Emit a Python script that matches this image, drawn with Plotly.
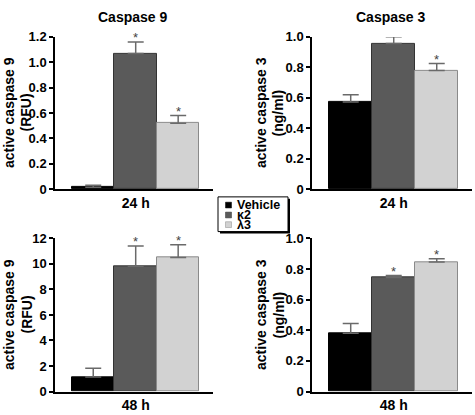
import plotly.graph_objects as go

# ---- data ----
groups = ["Vehicle", "κ2", "λ3"]
casp9_24h = [0.015, 1.07, 0.52]
casp9_24h_err = [0.015, 0.09, 0.06]
casp3_24h = [0.573, 0.956, 0.78]
casp3_24h_err = [0.047, 0.045, 0.045]
casp9_48h = [1.14, 9.82, 10.5]
casp9_48h_err = [0.68, 1.58, 1.0]
casp3_48h = [0.38, 0.745, 0.845]
casp3_48h_err = [0.065, 0.013, 0.022]
significant = [False, True, True]

casp9_24h_ticks = [0, 0.2, 0.4, 0.6, 0.8, 1.0, 1.2]
casp9_24h_labels = ["0", "0.2", "0.4", "0.6", "0.8", "1.0", "1.2"]
casp3_ticks = [0, 0.2, 0.4, 0.6, 0.8, 1.0]
casp3_labels = ["0", "0.2", "0.4", "0.6", "0.8", "1.0"]
casp9_48h_ticks = [0, 2, 4, 6, 8, 10, 12]
casp9_48h_labels = ["0", "2", "4", "6", "8", "10", "12"]

bar_colors = ["#000000", "#5a5a5a", "#d2d2d2"]
line_colors = ["#000000", "#333333", "#8a8a8a"]
FONT = "Liberation Sans, Arial, sans-serif"

W, H = 475, 415
def px(x): return x / W
def py(y): return 1 - y / H

panels = [
    (casp9_24h, casp9_24h_err, "24 h", casp9_24h_ticks, casp9_24h_labels, 1.2,
     ["active caspase 9", "(RFU)"], (55, 213), (31, 189), 9, "Caspase 9"),
    (casp3_24h, casp3_24h_err, "24 h", casp3_ticks, casp3_labels, 1.0,
     ["active caspase 3", "(ng/ml)"], (312, 472), (31, 189), 261, "Caspase 3"),
    (casp9_48h, casp9_48h_err, "48 h", casp9_48h_ticks, casp9_48h_labels, 12,
     ["active caspase 9", "(RFU)"], (55, 213), (240, 399), 9, None),
    (casp3_48h, casp3_48h_err, "48 h", casp3_ticks, casp3_labels, 1.0,
     ["active caspase 3", "(ng/ml)"], (312, 472), (240, 399), 261, None),
]

fig = go.Figure()
annotations = []
layout = {}
for i, (vals, errs, tlabel, yt, yl, ymax, ytitle, xd, yd, tx, ptitle) in enumerate(panels):
    n = "" if i == 0 else str(i + 1)
    xa, ya = "x" + n, "y" + n
    fig.add_trace(go.Bar(
        x=[0, 1, 2], y=vals, width=1, xaxis=xa, yaxis=ya, showlegend=False,
        marker=dict(color=bar_colors, line=dict(color=line_colors, width=1)),
        error_y=dict(type="data", array=errs, arrayminus=[0, 0, 0], symmetric=False,
                     color="#6a6a6a", thickness=1.5, width=8),
    ))
    layout["xaxis" + n] = dict(
        domain=[px(xd[0]), px(xd[1])], range=[-0.9, 2.82], anchor=ya,
        showline=True, linecolor="black", linewidth=1.5, ticks="",
        tickvals=[1], ticktext=[tlabel], showgrid=False, zeroline=False,
        tickfont=dict(family=FONT, size=14, color="black", weight="bold"),
        fixedrange=True,
    )
    layout["yaxis" + n] = dict(
        domain=[py(yd[1]), py(yd[0])], range=[0, ymax], anchor=xa,
        showline=True, linecolor="black", linewidth=1.5, ticks="outside",
        ticklen=4, tickwidth=1.5, tickcolor="black",
        tickvals=yt, ticktext=yl, showgrid=False, zeroline=False,
        tickfont=dict(family=FONT, size=13, color="black", weight="bold"),
        fixedrange=True,
    )
    for j in range(3):
        if significant[j]:
            annotations.append(dict(
                x=j, y=vals[j] + errs[j], xref=xa, yref=ya, text="*",
                showarrow=False, yanchor="bottom", yshift=-5.5,
                font=dict(family=FONT, size=13, color="#444444"),
            ))
    for li, line in enumerate(ytitle):
        annotations.append(dict(
            x=px(tx + 17.5 * li), y=py((yd[0] + yd[1]) / 2), xref="paper", yref="paper",
            text=line, textangle=-90, showarrow=False, xanchor="center", yanchor="middle",
            font=dict(family=FONT, size=14, color="black", weight="bold"),
        ))
    if ptitle:
        annotations.append(dict(
            x=px((xd[0] + xd[1]) / 2 - 2), y=py(10), xref="paper", yref="paper",
            text=ptitle, showarrow=False, xanchor="center", yanchor="middle",
            font=dict(family=FONT, size=14, color="black", weight="bold"),
        ))

# ---- manual legend ----
shapes = []
bx0, bx1, by0, by1 = 218, 288, 197, 233
shapes.append(dict(type="rect", xref="paper", yref="paper",
                   x0=px(bx0 + 2), x1=px(bx1 + 2), y0=py(by1 + 2), y1=py(by0 + 2),
                   fillcolor="black", line=dict(width=0), layer="above"))
shapes.append(dict(type="rect", xref="paper", yref="paper",
                   x0=px(bx0), x1=px(bx1), y0=py(by1), y1=py(by0),
                   fillcolor="white", line=dict(color="black", width=1), layer="above"))
row_y = [205.5, 215.8, 225.8]
for k, name in enumerate(groups):
    shapes.append(dict(type="rect", xref="paper", yref="paper",
                       x0=px(225.5), x1=px(231.5), y0=py(row_y[k] + 3), y1=py(row_y[k] - 3),
                       fillcolor=bar_colors[k], line=dict(color=line_colors[k], width=0.5),
                       layer="above"))
    annotations.append(dict(
        x=px(235), y=py(row_y[k]), xref="paper", yref="paper", text=name,
        showarrow=False, xanchor="left", yanchor="middle",
        font=dict(family=FONT, size=12.5, color="black", weight="bold"),
    ))

fig.update_layout(
    width=W, height=H, margin=dict(l=0, r=0, t=0, b=0),
    paper_bgcolor="white", plot_bgcolor="white",
    bargap=0, annotations=annotations, shapes=shapes, showlegend=False,
    **layout,
)
fig.write_html("out.html", config={"displayModeBar": False},
               post_script="document.body.style.margin='0';document.body.style.overflow='hidden';")
